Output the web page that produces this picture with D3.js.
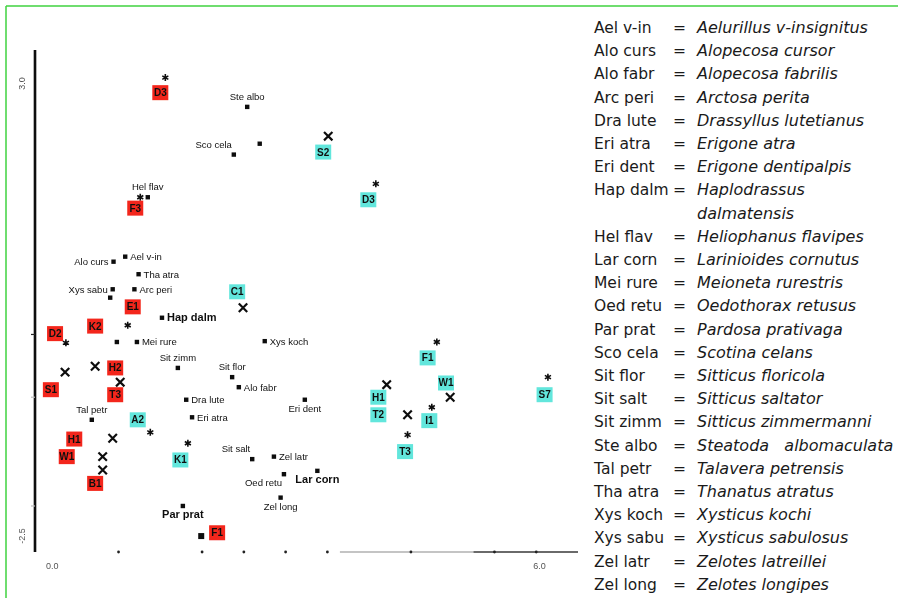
<!DOCTYPE html>
<html>
<head>
<meta charset="utf-8">
<script src="https://cdn.jsdelivr.net/npm/d3@7"></script>
<style>
  body { margin: 0; background: #fff; }
  svg { display: block; }
</style>
</head>
<body>
<svg id="chart" width="898" height="598"></svg>
<script>
// Sampling sites (boxed codes); group I = red, group II = cyan
const siteNames = ["D3","F3","E1","K2","D2","H2","S1","T3","H1","W1","B1","F1",
                   "S2","D3","C1","A2","K1","F1","W1","H1","T2","I1","T3","S7"];
const siteGroup = ["I","I","I","I","I","I","I","I","I","I","I","I",
                   "II","II","II","II","II","II","II","II","II","II","II","II"];
const siteX = [1.50,1.20,1.17,0.72,0.24,0.96,0.19,0.96,0.47,0.38,0.72,2.18,
               3.45,3.99,2.42,1.23,1.74,4.70,4.92,4.11,4.11,4.72,4.43,6.10];
const siteY = [2.89,1.51,0.33,0.10,0.01,-0.40,-0.66,-0.72,-1.25,-1.46,-1.78,-2.37,
               2.18,1.61,0.51,-1.02,-1.50,-0.28,-0.58,-0.75,-0.96,-1.03,-1.40,-0.72];

// Species scores (filled squares) with their short labels
const speciesNames = ["Ste albo","Sco cela","","Hel flav","Ael v-in","Alo curs","Tha atra",
                      "Xys sabu","Arc peri","","Hap dalm","","Mei rure","Xys koch",
                      "Sit zimm","Sit flor","Alo fabr","Dra lute","Eri atra","Tal petr",
                      "Eri dent","Sit salt","Zel latr","Lar corn","Oed retu","Zel long",
                      "Par prat",""];
const speciesX = [2.54,2.38,2.69,1.35,1.08,0.94,1.24,0.93,1.19,0.90,1.52,0.98,1.22,2.75,
                  1.71,2.36,2.44,1.81,1.88,0.68,3.23,2.60,2.86,3.38,2.98,2.94,1.77,1.98];
const speciesY = [2.72,2.15,2.28,1.64,0.93,0.87,0.72,0.54,0.54,0.44,0.20,-0.09,-0.09,-0.08,
                  -0.40,-0.51,-0.63,-0.78,-0.99,-1.02,-0.78,-1.49,-1.46,-1.63,-1.67,-1.95,
                  -2.05,-2.40];
const speciesSide = ["a","al","r","a","r","l","r","l","r","r","r","r","r","r",
                     "a","a","r","r","r","a","b","al","r","b","bl","b","b","r"];

// Supplementary sample scores (crosses) and passive points (asterisks)
const crossX = [2.49,0.36,0.72,1.02,0.93,0.81,0.81,4.21,4.46,4.97,3.51];
const crossY = [0.32,-0.45,-0.38,-0.57,-1.24,-1.46,-1.62,-0.60,-0.96,-0.75,2.37];
const starX  = [1.56,1.26,0.37,1.11,4.81,4.75,4.46,6.14,1.83,1.38,4.08];
const starY  = [3.07,1.64,-0.10,0.11,-0.09,-0.87,-1.20,-0.51,-1.30,-1.17,1.80];

// Axis decoration
const xTickDots = [1, 2, 2.5, 3, 3.5, 4.5, 5.5, 6];
const yTickMarks = [0, -0.75, -2.05];
const xTickLabels = ["0.0", "6.0"];
const yTickLabels = ["3.0", "-2.5"];

// Species key
const legendAbbr = ["Ael v-in","Alo curs","Alo fabr","Arc peri","Dra lute","Eri atra",
  "Eri dent","Hap dalm","Hel flav","Lar corn","Mei rure","Oed retu","Par prat","Sco cela",
  "Sit flor","Sit salt","Sit zimm","Ste albo","Tal petr","Tha atra","Xys koch","Xys sabu",
  "Zel latr","Zel long"];
const legendName = ["Aelurillus v-insignitus","Alopecosa cursor","Alopecosa fabrilis",
  "Arctosa perita","Drassyllus lutetianus","Erigone atra","Erigone dentipalpis",
  "Haplodrassus|dalmatensis","Heliophanus flavipes","Larinioides cornutus",
  "Meioneta rurestris","Oedothorax retusus","Pardosa prativaga","Scotina celans",
  "Sitticus floricola","Sitticus saltator","Sitticus zimmermanni",
  "Steatoda\u00a0\u00a0\u00a0albomaculata","Talavera petrensis","Thanatus atratus",
  "Xysticus kochi","Xysticus sabulosus","Zelotes latreillei","Zelotes longipes"];

const svg = d3.select("#chart");
const x = d3.scaleLinear().domain([0, 6.5]).range([35, 578]);
const y = d3.scaleLinear().domain([-2.6, 3.4]).range([552, 50]);

// frame lines
svg.append("line").attr("x1", 6).attr("x2", 898).attr("y1", 6).attr("y2", 6)
  .attr("stroke", "#3fd23f").attr("stroke-width", 1.5);
svg.append("line").attr("x1", 6).attr("x2", 6).attr("y1", 6).attr("y2", 598)
  .attr("stroke", "#3fd23f").attr("stroke-width", 1.5);

const defs = svg.append("defs");
defs.append("filter").attr("id", "soft")
  .append("feGaussianBlur").attr("stdDeviation", 0.45);

const plot = svg.append("g").attr("filter", "url(#soft)");

// y axis
plot.append("line").attr("x1", x(0)).attr("x2", x(0))
  .attr("y1", y(3.4)).attr("y2", y(-2.6))
  .attr("stroke", "#111").attr("stroke-width", 2.6);
plot.selectAll(".ytick").data(yTickMarks).join("line")
  .attr("x1", x(0) - 4).attr("x2", x(0))
  .attr("y1", d => y(d)).attr("y2", d => y(d))
  .attr("stroke", (d, i) => i === 0 ? "#222" : "#bbb").attr("stroke-width", 1.2);
plot.selectAll(".ylab").data(yTickLabels).join("text")
  .attr("transform", (d, i) => `translate(${x(0) - 10},${i === 0 ? y(3.0) : y(-2.5)}) rotate(-90)`)
  .attr("text-anchor", (d, i) => i === 0 ? "middle" : "start")
  .attr("font-family", "Liberation Sans, Arial, sans-serif")
  .attr("font-size", 9).attr("fill", "#555").text(d => d);

// x axis
plot.append("line").attr("x1", x(3.65)).attr("x2", x(6.5))
  .attr("y1", y(-2.6)).attr("y2", y(-2.6))
  .attr("stroke", "#c4c4c4").attr("stroke-width", 2);
plot.append("line").attr("x1", x(5.25)).attr("x2", x(6.5))
  .attr("y1", y(-2.6)).attr("y2", y(-2.6))
  .attr("stroke", "#6a6a6a").attr("stroke-width", 2);
plot.selectAll(".xdot").data(xTickDots).join("circle")
  .attr("cx", d => x(d)).attr("cy", y(-2.6)).attr("r", 1.4).attr("fill", "#222");
plot.selectAll(".xlab").data(xTickLabels).join("text")
  .attr("x", (d, i) => i === 0 ? x(0) + 11 : x(6) - 3)
  .attr("y", y(-2.6) + 17)
  .attr("font-family", "Liberation Sans, Arial, sans-serif")
  .attr("font-size", 9).attr("fill", "#555").text(d => d);

const labelFont = "Liberation Sans, Arial, sans-serif";
const emphasis = new Set(["Hap dalm", "Lar corn", "Par prat"]);

// species squares
const sp = d3.range(speciesNames.length);
plot.selectAll(".sp").data(sp).join("rect")
  .attr("x", i => x(speciesX[i]) - 2.2).attr("y", i => y(speciesY[i]) - 2.2)
  .attr("width", i => i === sp.length - 1 ? 6 : 4.4)
  .attr("height", i => i === sp.length - 1 ? 6 : 4.4)
  .attr("fill", "#111");
plot.selectAll(".splab").data(sp.filter(i => speciesNames[i])).join("text")
  .attr("x", i => {
    const s = speciesSide[i], px = x(speciesX[i]);
    if (s === "r") return px + 5;
    if (s === "l") return px - 5;
    if (s === "al" || s === "bl") return px - 2;
    return px;
  })
  .attr("y", i => {
    const s = speciesSide[i], py = y(speciesY[i]);
    if (s[0] === "a") return py - 7;
    if (s[0] === "b") return py + 12;
    return py + 3.5;
  })
  .attr("text-anchor", i => {
    const s = speciesSide[i];
    if (s === "r") return "start";
    if (s === "l" || s === "al" || s === "bl") return "end";
    return "middle";
  })
  .attr("font-family", labelFont)
  .attr("font-size", i => emphasis.has(speciesNames[i]) ? 11 : 9.5)
  .attr("font-weight", i => emphasis.has(speciesNames[i]) ? "bold" : "normal")
  .attr("fill", "#111")
  .text(i => speciesNames[i]);

// crosses
plot.selectAll(".cross").data(d3.range(crossX.length)).join("path")
  .attr("transform", i => `translate(${x(crossX[i])},${y(crossY[i])})`)
  .attr("d", d3.symbol(d3.symbolX, 48))
  .attr("fill", "none").attr("stroke", "#111").attr("stroke-width", 2.2);

// asterisks
plot.selectAll(".star").data(d3.range(starX.length)).join("path")
  .attr("transform", i => `translate(${x(starX[i])},${y(starY[i])})`)
  .attr("d", d3.symbol(d3.symbolAsterisk, 34))
  .attr("fill", "none").attr("stroke", "#111").attr("stroke-width", 1.6);

// site boxes
const color = { I: "#f3261b", II: "#62e6dc" };
const st = plot.selectAll(".site").data(d3.range(siteNames.length)).join("g")
  .attr("transform", i => `translate(${x(siteX[i])},${y(siteY[i])})`);
st.append("rect").attr("x", -8).attr("y", -7.5).attr("width", 16).attr("height", 15)
  .attr("fill", i => color[siteGroup[i]]);
st.append("text").attr("text-anchor", "middle").attr("y", 3.5)
  .attr("font-family", labelFont).attr("font-size", 10).attr("font-weight", "bold")
  .attr("fill", "#111").text(i => siteNames[i]);

// species key
const key = svg.append("g")
  .attr("font-family", "'DejaVu Sans', sans-serif").attr("font-size", 15.5)
  .attr("fill", "#1a1a1a");
let row = 0;
legendAbbr.forEach((abbr, i) => {
  const yy = 33 + row * 23.2;
  key.append("text").attr("x", 594).attr("y", yy).text(abbr);
  key.append("text").attr("x", 673).attr("y", yy).text("=");
  const parts = legendName[i].split("|");
  parts.forEach((p, k) => {
    key.append("text").attr("x", 697).attr("y", 33 + (row + k) * 23.2)
      .attr("font-style", "italic").attr("font-size", 16).text(p);
  });
  row += parts.length;
});
</script>
</body>
</html>
